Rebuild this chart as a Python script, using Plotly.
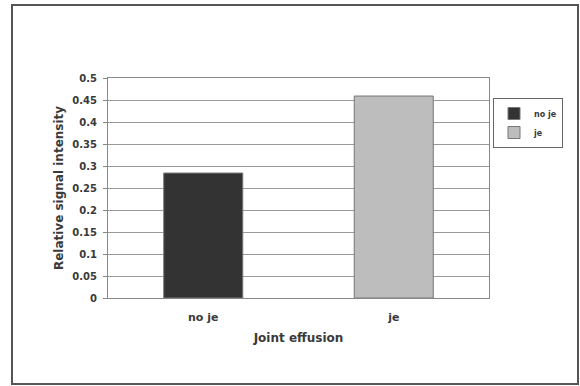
import plotly.graph_objects as go

# Data
categories = ["no je", "je"]
values = [0.284, 0.459]
series_names = ["no je", "je"]
bar_colors = ["#333333", "#bdbdbd"]
y_ticks = [0, 0.05, 0.1, 0.15, 0.2, 0.25, 0.3, 0.35, 0.4, 0.45, 0.5]
y_tick_text = ["0", "0.05", "0.1", "0.15", "0.2", "0.25", "0.3", "0.35", "0.4", "0.45", "0.5"]

W, H = 580, 386
L, R, T, B = 108, 489, 78, 298  # plot area in pixels

fig = go.Figure()
for cat, val, name, col in zip(categories, values, series_names, bar_colors):
    fig.add_trace(go.Bar(
        x=[cat], y=[val], name="<b>%s</b>" % name, width=0.415,
        marker=dict(color=col, line=dict(color="#777777", width=1)),
    ))

pw, ph = R - L, B - T
def px(x):
    return (x - L) / pw
def py(y):
    return (B - y) / ph

FAM = "DejaVu Sans, Verdana, sans-serif"
TXT = "#3a3a3a"

fig.update_layout(
    width=W, height=H,
    margin=dict(l=L, r=W - R, t=T, b=H - B, pad=0),
    paper_bgcolor="white", plot_bgcolor="white",
    barmode="overlay",
    font=dict(family=FAM, size=9, color=TXT),
    showlegend=True,
    legend=dict(
        x=px(493), y=py(98), xanchor="left", yanchor="top",
        bordercolor="#666666", borderwidth=1, bgcolor="white",
        font=dict(family=FAM, size=8, color=TXT),
        itemwidth=30, tracegroupgap=2,
    ),
    xaxis=dict(
        showgrid=False, showline=True, linecolor="#888888", linewidth=1, mirror=True,
        ticks="", tickfont=dict(family=FAM, size=11, color=TXT),
        ticklabelstandoff=9,
        tickvals=categories, ticktext=["<b>%s</b>" % c for c in categories],
        title=dict(text="<b>Joint effusion</b>", font=dict(family=FAM, size=12, color=TXT), standoff=10),
    ),
    yaxis=dict(
        range=[0, 0.5], tickvals=y_ticks, ticktext=["<b>%s</b>" % t for t in y_tick_text],
        showgrid=True, gridcolor="#999999", gridwidth=1,
        showline=True, linecolor="#888888", linewidth=1, mirror=True,
        ticks="outside", ticklen=4, tickcolor="#888888",
        ticklabelstandoff=4,
        tickfont=dict(family=FAM, size=10, color=TXT),
        title=dict(text="<b>Relative signal intensity</b>", font=dict(family=FAM, size=12, color=TXT), standoff=6),
        zeroline=False,
    ),
    shapes=[dict(
        type="rect", xref="paper", yref="paper",
        x0=px(12), x1=px(578), y0=py(384), y1=py(5),
        line=dict(color="#555555", width=2), fillcolor="rgba(0,0,0,0)", layer="below",
    )],
)

fig.write_html("out.html")
